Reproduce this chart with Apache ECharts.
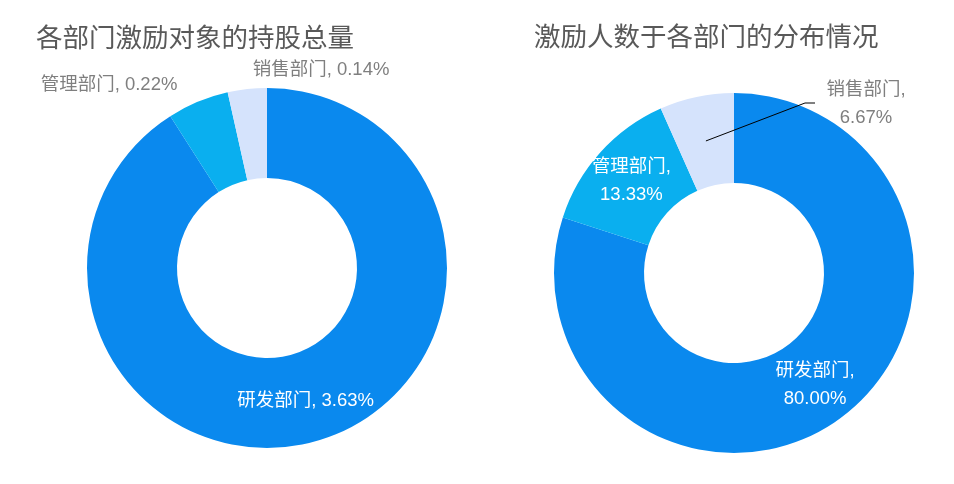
<!DOCTYPE html>
<html>
<head>
<meta charset="utf-8">
<script src="https://cdn.jsdelivr.net/npm/echarts@6/dist/echarts.min.js"></script>
<style>
html,body{margin:0;padding:0;background:#fff;}
#main{width:954px;height:484px;}
</style>
</head>
<body>
<div id="main"></div>
<script>
var depts = ['研发部门', '管理部门', '销售部门'];
// 持股总量 (%)
var holdPct = [3.63, 0.22, 0.14];
// 激励人数分布 (%)
var peoplePct = [80.00, 13.33, 6.67];
var titles = ['各部门激励对象的持股总量', '激励人数于各部门的分布情况'];

var colors = ['#0A89EE', '#0AAFEF', '#D5E3FC'];
var font = "'Liberation Sans', 'Noto Sans CJK SC', sans-serif";
var leftCenter = [267, 268];
var rightCenter = [734, 273];
var rInner = 90, rOuter = 180;

// 外侧标签位置
var leftLabelPos = {1: [109, 85], 2: [321, 70]};
var rightLabelPos = {2: [866, 104]};

function makeData(vals, outsideIdx) {
	var arr = [];
	for (var i = 0; i < depts.length; i++) {
		var item = {
			name: depts[i],
			value: vals[i],
			itemStyle: {color: colors[i]}
		};
		if (outsideIdx.indexOf(i) >= 0) {
			item.label = {position: 'outside', color: '#7F7F7F'};
			item.labelLine = {show: false};
		}
		arr.push(item);
	}
	return arr;
}

function midPoint(vals, idx, center, r) {
	var tot = 0, before = 0;
	for (var i = 0; i < vals.length; i++) {
		tot += vals[i];
		if (i < idx) before += vals[i];
	}
	var ang = (before + vals[idx] / 2) / tot * Math.PI * 2;
	return [center[0] + r * Math.sin(ang), center[1] - r * Math.cos(ang)];
}

// 右图销售部门标签(带引导线), 放在上层透明饼图里
var overlayData = [];
for (var k = 0; k < depts.length; k++) {
	overlayData.push({
		name: depts[k],
		value: peoplePct[k],
		label: {show: k === 2},
		labelLine: {show: k === 2}
	});
}

var labelFmt2 = function (p) {
	return p.name + ',\n' + p.value.toFixed(2) + '%';
};

var option = {
	animation: false,
	textStyle: {fontFamily: font},
	title: [{
		text: titles[0],
		left: 31,
		top: 21,
		textStyle: {fontSize: 26.5, fontWeight: 'normal', color: '#595959', fontFamily: font}
	}, {
		text: titles[1],
		left: 529,
		top: 20,
		textStyle: {fontSize: 26.5, fontWeight: 'normal', color: '#595959', fontFamily: font}
	}],
	series: [{
		name: '持股总量',
		type: 'pie',
		center: leftCenter,
		radius: [rInner, rOuter],
		avoidLabelOverlap: false,
		label: {
			show: true,
			position: 'inside',
			color: '#fff',
			fontSize: 18.5,
			fontFamily: font,
			formatter: function (p) {
				return p.name + ', ' + p.value.toFixed(2) + '%';
			}
		},
		labelLayout: function (p) {
			var pos = leftLabelPos[p.dataIndex];
			if (!pos) return {};
			return {x: pos[0], y: pos[1], align: 'center', verticalAlign: 'middle'};
		},
		data: makeData(holdPct, [1, 2])
	}, {
		name: '激励人数',
		type: 'pie',
		center: rightCenter,
		radius: [rInner, rOuter],
		avoidLabelOverlap: false,
		label: {
			show: true,
			position: 'inside',
			color: '#fff',
			fontSize: 18.5,
			lineHeight: 28,
			fontFamily: font,
			formatter: function (p) {
				return p.dataIndex === 2 ? '' : labelFmt2(p);
			}
		},
		data: makeData(peoplePct, [])
	}, {
		name: '激励人数标签',
		type: 'pie',
		z: 5,
		silent: true,
		center: rightCenter,
		radius: [rInner, rOuter],
		avoidLabelOverlap: false,
		itemStyle: {color: 'rgba(0,0,0,0)'},
		label: {
			show: true,
			position: 'outside',
			color: '#7F7F7F',
			fontSize: 18.5,
			lineHeight: 28,
			fontFamily: font,
			formatter: labelFmt2
		},
		labelLine: {show: true, lineStyle: {color: '#000', width: 1}},
		labelLayout: function (p) {
			var pos = rightLabelPos[p.dataIndex];
			if (!pos) return {};
			var start = midPoint(peoplePct, p.dataIndex, rightCenter, (rInner + rOuter) / 2);
			return {
				x: pos[0], y: pos[1], align: 'center', verticalAlign: 'middle',
				labelLinePoints: [start, [pos[0] - 61, pos[1] - 1], [pos[0] - 51, pos[1] - 1]]
			};
		},
		data: overlayData
	}]
};

var myChart = echarts.init(document.getElementById('main'));
myChart.setOption(option);
</script>
</body>
</html>
